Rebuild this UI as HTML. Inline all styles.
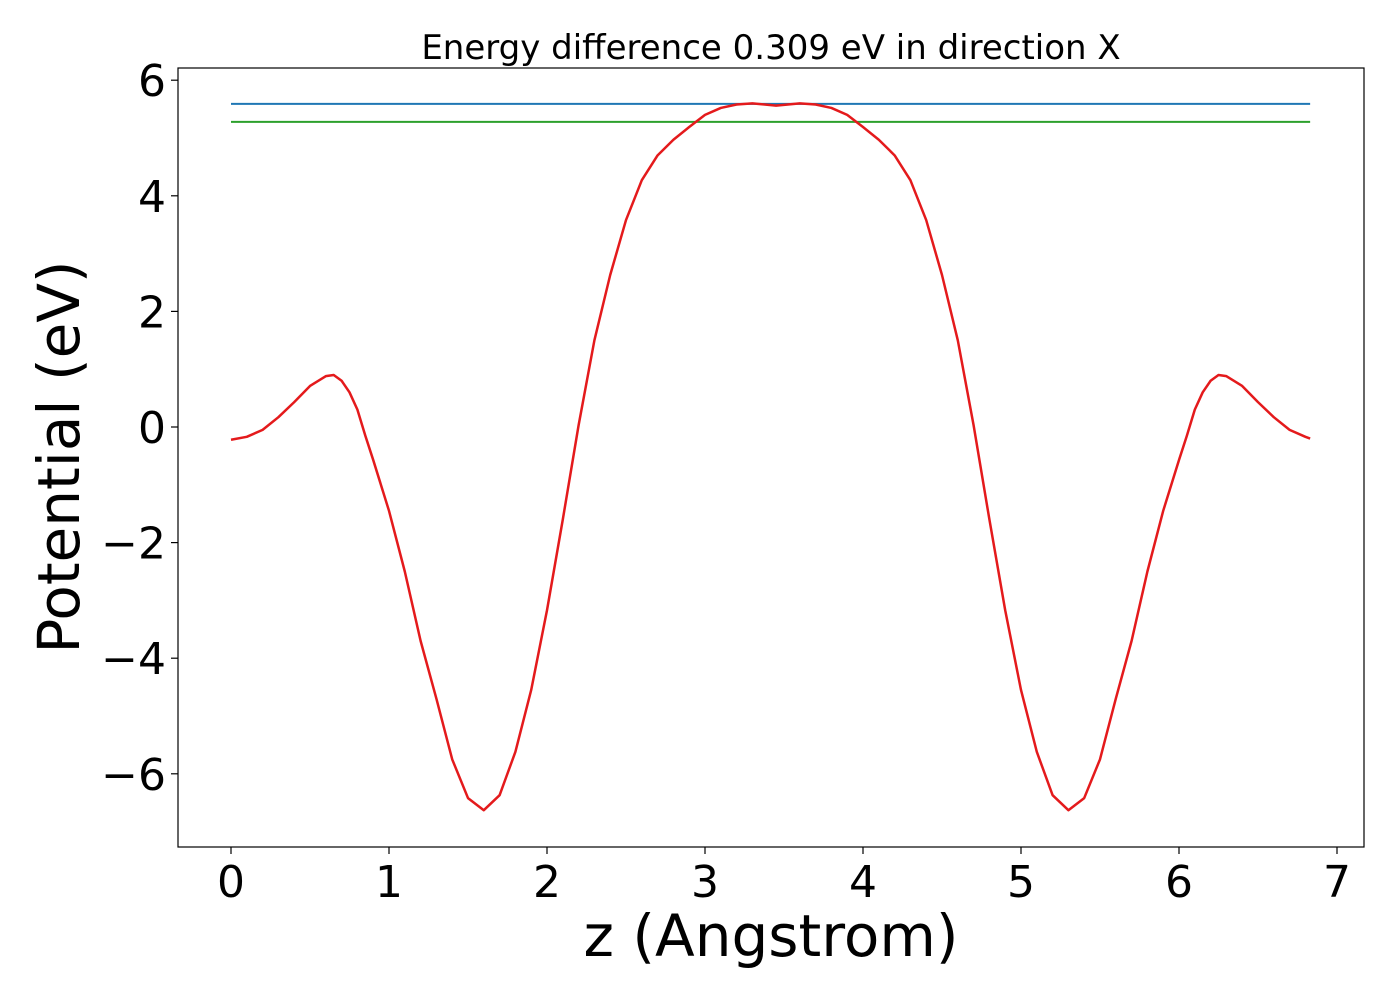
<!DOCTYPE html>
<html><head><meta charset="utf-8"><style>
body{margin:0;background:#fff}
svg text{font-family:"DejaVu Sans","Liberation Sans",sans-serif;fill:#000}
</style></head><body>
<svg width="1400" height="1000" viewBox="0 0 1400 1000" xmlns="http://www.w3.org/2000/svg">
<g id="plot"></g>
</svg>
<script>
const zVals=[0,0.1,0.2,0.3,0.4,0.5,0.6,0.65,0.7,0.75,0.8,0.85,0.9,1.0,1.1,1.2,1.3,1.4,1.5,1.6,1.7,1.8,1.9,2.0,2.1,2.2,2.3,2.4,2.5,2.6,2.7,2.8,2.9,3.0,3.1,3.2,3.3,3.45,3.6,3.7,3.8,3.9,4.0,4.1,4.2,4.3,4.4,4.5,4.6,4.7,4.8,4.9,5.0,5.1,5.2,5.3,5.4,5.5,5.6,5.7,5.8,5.9,6.0,6.05,6.1,6.15,6.2,6.25,6.3,6.4,6.5,6.6,6.7,6.8,6.83];
const potential=[-0.22,-0.17,-0.05,0.17,0.43,0.71,0.88,0.9,0.8,0.6,0.3,-0.15,-0.57,-1.45,-2.5,-3.7,-4.7,-5.75,-6.42,-6.63,-6.37,-5.62,-4.55,-3.17,-1.6,0.03,1.5,2.63,3.58,4.27,4.7,4.97,5.19,5.4,5.52,5.58,5.6,5.56,5.6,5.58,5.52,5.4,5.19,4.97,4.7,4.27,3.58,2.63,1.5,0.03,-1.6,-3.17,-4.55,-5.62,-6.37,-6.63,-6.42,-5.75,-4.7,-3.7,-2.5,-1.45,-0.57,-0.15,0.3,0.6,0.8,0.9,0.88,0.71,0.43,0.17,-0.05,-0.17,-0.2];
const levelBlue=5.59, levelGreen=5.28;
const xTicks=[0,1,2,3,4,5,6,7];
const yTicks=[6,4,2,0,-2,-4,-6];
const L=178,R=1364,T=68,B=847;
const X=v=>231+v*158, Y=v=>427-v*57.8;
const NS="http://www.w3.org/2000/svg";
const g=document.getElementById('plot');
function mk(t,a,p){const e=document.createElementNS(NS,t);for(const k in a)e.setAttribute(k,a[k]);(p||g).appendChild(e);return e;}
const frame=mk('rect',{x:L,y:T,width:R-L,height:B-T,fill:'none',stroke:'#000','stroke-width':1.2});


xTicks.forEach(v=>{
 const l=mk('line',{x1:X(v),x2:X(v),y1:B,y2:B+7,stroke:'#000','stroke-width':1.2});
 
 
 const t=mk('text',{x:X(v),y:B+50,'text-anchor':'middle','font-size':44});t.textContent=v;
 
 
});
yTicks.forEach(v=>{
 const l=mk('line',{x1:L-7,x2:L,y1:Y(v),y2:Y(v),stroke:'#000','stroke-width':1.2});
 
 
 const t=mk('text',{x:L-12,y:Y(v)+16,'text-anchor':'end','font-size':44});t.textContent=(v<0?'\u2212':'')+Math.abs(v);
 
 
});
[[levelBlue,'#1f77b4','blue-level-line'],[levelGreen,'#2ca02c','green-level-line']].forEach(([v,c,n])=>{
 const l=mk('line',{x1:X(0),x2:X(zVals[zVals.length-1]),y1:Y(v),y2:Y(v),stroke:c,'stroke-width':2});
 
 
});
const p=mk('polyline',{points:zVals.map((z,i)=>X(z)+','+Y(potential[i])).join(' '),fill:'none',stroke:'#e41a1c','stroke-width':2.5,'stroke-linejoin':'round'});


const tt=mk('text',{x:771,y:59,'text-anchor':'middle','font-size':34});tt.textContent='Energy difference 0.309 eV in direction X';


const xl=mk('text',{x:771,y:956,'text-anchor':'middle','font-size':58});xl.textContent='z (Angstrom)';


const yl=mk('text',{x:0,y:0,'text-anchor':'middle','font-size':58,transform:'translate(79,457) rotate(-90)'});yl.textContent='Potential (eV)';


</script>
</body></html>
